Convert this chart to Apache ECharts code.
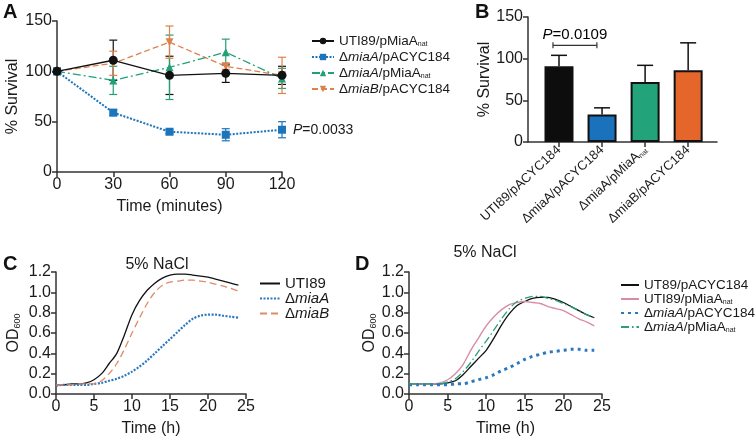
<!DOCTYPE html>
<html><head><meta charset="utf-8">
<script src="https://cdn.jsdelivr.net/npm/echarts@6/dist/echarts.min.js"></script>
<style>html,body{margin:0;padding:0;background:#fff}#c{width:756px;height:438px}</style>
</head><body><div id="c"></div>
<script>
// ---------- Panel A ----------
const aTimes = [0, 30, 60, 90, 120];
const aUtiPMiaA = [100, 111, 96, 98, 96];
const aUtiPMiaAErr = [0, 20, 19, 9, 9];
const aMiaAPacyc = [100, 59, 40, 37, 42];
const aMiaAPacycErr = [0, 3, 2, 6, 8];
const aMiaAPMiaA = [100, 91, 104, 119, 93];
const aMiaAPMiaAErr = [0, 14, 32, 13, 10];
const aMiaBPacyc = [100, 108, 129, 105, 96];
const aMiaBPacycErr = [0, 12, 16, 3, 18];
const aPValue = 'P=0.0033';
// ---------- Panel B ----------
const bCategories = ['UTI89/pACYC184', 'ΔmiaA/pACYC184', 'ΔmiaA/pMiaA_nat', 'ΔmiaB/pACYC184'];
const bValues = [91, 33, 72, 86];
const bErr = [13, 8, 20, 33];
const bBracket = { from: -0.14, to: 0.88, y: 116, text: 'P=0.0109' };
// ---------- Panel C ----------
const cHours = [0,1,2,3,4,5,6,7,8,9,10,11,12,13,14,15,16,17,18,19,20,21,22,23,24];
const cUti = [0.09,0.09,0.10,0.10,0.11,0.14,0.20,0.30,0.40,0.58,0.78,0.92,1.02,1.09,1.14,1.17,1.18,1.18,1.17,1.16,1.15,1.13,1.11,1.09,1.07];
const cMiaA = [0.08,0.09,0.09,0.09,0.09,0.10,0.11,0.13,0.15,0.18,0.22,0.27,0.33,0.40,0.47,0.54,0.61,0.68,0.74,0.77,0.78,0.78,0.77,0.76,0.75];
const cMiaB = [0.09,0.09,0.09,0.10,0.10,0.10,0.13,0.20,0.30,0.44,0.60,0.75,0.89,1.00,1.07,1.10,1.11,1.12,1.12,1.11,1.10,1.08,1.06,1.04,1.01];
// ---------- Panel D ----------
const dHours = [0,1,2,3,4,5,6,7,8,9,10,11,12,13,14,15,16,17,18,19,20,21,22,23,24];
const dUtiPacyc = [0.10,0.10,0.10,0.10,0.10,0.11,0.13,0.19,0.27,0.35,0.43,0.55,0.68,0.79,0.87,0.91,0.94,0.95,0.95,0.93,0.90,0.86,0.82,0.78,0.75];
const dUtiPMiaA = [0.10,0.10,0.10,0.10,0.11,0.14,0.20,0.29,0.43,0.55,0.67,0.76,0.83,0.88,0.90,0.91,0.90,0.89,0.86,0.84,0.82,0.78,0.74,0.71,0.67];
const dMiaAPacyc = [0.09,0.09,0.09,0.09,0.09,0.09,0.10,0.10,0.12,0.14,0.16,0.19,0.23,0.26,0.30,0.34,0.37,0.39,0.41,0.42,0.43,0.44,0.44,0.43,0.43];
const dMiaAPMiaA = [0.10,0.10,0.10,0.10,0.10,0.12,0.15,0.22,0.31,0.42,0.52,0.63,0.74,0.84,0.91,0.94,0.96,0.96,0.94,0.92,0.89,0.86,0.82,0.78,0.75];

const FF = '"Liberation Sans", Arial, sans-serif';
const TXT = '#1a1a1a';
const AX = '#333';

const zip = (xs, ys) => xs.map((x, i) => [x, ys[i]]);
const errData = (xs, ys, es) => xs.map((x, i) => [x, ys[i] - es[i], ys[i] + es[i]]);

function errSeries(xi, yi, data, color, cap, lw, bottomCap) {
  return {
    type: 'custom', xAxisIndex: xi, yAxisIndex: yi, data: data, silent: true, z: 3,
    encode: { x: 0, y: [1, 2] },
    renderItem: function (p, api) {
      const x = api.value(0), lo = api.value(1), hi = api.value(2);
      if (hi - lo === 0) return null;
      const a = api.coord([x, lo]), b = api.coord([x, hi]);
      const s = { stroke: color, lineWidth: lw, fill: null };
      const ch = [
        { type: 'line', shape: { x1: a[0], y1: a[1], x2: b[0], y2: b[1] }, style: s },
        { type: 'line', shape: { x1: b[0] - cap, y1: b[1], x2: b[0] + cap, y2: b[1] }, style: s }
      ];
      if (bottomCap) ch.push({ type: 'line', shape: { x1: a[0] - cap, y1: a[1], x2: a[0] + cap, y2: a[1] }, style: s });
      return { type: 'group', children: ch };
    }
  };
}

const rich = (size) => ({
  n: { fontSize: size, fontFamily: FF, color: TXT, lineHeight: size },
  i: { fontSize: size, fontFamily: FF, color: TXT, fontStyle: 'italic', lineHeight: size },
  s: { fontSize: Math.round(size * 0.55), fontFamily: FF, color: TXT, verticalAlign: 'bottom', lineHeight: Math.round(size*0.55), padding: [Math.round(size*0.45), 0, 0, 0] }
});

const names = {
  a1: '{n|UTI89/pMiaA}{s|nat}', a2: '{n|Δ}{i|miaA}{n|/pACYC184}', a3: '{n|Δ}{i|miaA}{n|/pMiaA}{s|nat}', a4: '{n|Δ}{i|miaB}{n|/pACYC184}',
  c1: '{n|UTI89}', c2: '{n|Δ}{i|miaA}', c3: '{n|Δ}{i|miaB}',
  d1: '{n|UT89/pACYC184}', d2: '{n|UTI89/pMiaA}{s|nat}', d3: '{n|Δ}{i|miaA}{n|/pACYC184}', d4: '{n|Δ}{i|miaA}{n|/pMiaA}{s|nat}'
};
const bLabel = (s) => s.replace(/_nat$/, '{s|nat}').replace(/^([^{]*)/, '{n|$1}');

function axisCommon(extra) {
  return Object.assign({
    axisLine: { show: true, onZero: false, lineStyle: { color: AX, width: 1.5 } },
    axisTick: { show: true, inside: false, length: 5, lineStyle: { color: AX, width: 1.5 } },
    axisLabel: { color: TXT, fontSize: 16, fontFamily: FF, margin: 5 },
    splitLine: { show: false },
    nameTextStyle: { color: TXT, fontSize: 16, fontFamily: FF },
    nameLocation: 'middle'
  }, extra);
}

const odName = { rich: { a: { fontSize: 16, fontFamily: FF, color: TXT }, s: { fontSize: 9, fontFamily: FF, color: TXT, verticalAlign: 'bottom', padding: [7, 0, 0, 0] } } };

const option = {
  animation: false,
  backgroundColor: '#fff',
  grid: [
    { left: 57, top: 21, width: 225, height: 151 },
    { left: 528, top: 17, width: 189, height: 125 },
    { left: 56, top: 272, width: 190, height: 122 },
    { left: 409, top: 272, width: 193, height: 125 }
  ],
  xAxis: [
    axisCommon({ gridIndex: 0, type: 'value', min: 0, max: 120, interval: 30, name: 'Time (minutes)', nameGap: 27 }),
    axisCommon({ gridIndex: 1, type: 'value', min: -0.72, max: 3.67,
      axisTick: { show: true, length: 5, customValues: [0, 1, 2, 3], lineStyle: { color: AX, width: 1.5 } },
      axisLabel: { customValues: [0, 1, 2, 3], rotate: 43, margin: 6, fontSize: 13, fontFamily: FF, color: TXT,
        formatter: (v) => bLabel(bCategories[Math.round(v)]), rich: rich(13) } }),
    axisCommon({ gridIndex: 2, type: 'value', min: 0, max: 25, interval: 5, name: 'Time (h)', nameGap: 27 }),
    axisCommon({ gridIndex: 3, type: 'value', min: 0, max: 25, interval: 5, name: 'Time (h)', nameGap: 27 })
  ],
  yAxis: [
    axisCommon({ gridIndex: 0, type: 'value', min: 0, max: 150, interval: 50, name: '% Survival', nameGap: 36 }),
    axisCommon({ gridIndex: 1, type: 'value', min: 0, max: 150, interval: 50, name: '% Survival', nameGap: 34 }),
    axisCommon({ gridIndex: 2, type: 'value', min: 0, max: 1.2, interval: 0.2, name: '{a|OD}{s|600}', nameGap: 34, nameTextStyle: odName,
      axisLabel: { color: TXT, fontSize: 16, fontFamily: FF, margin: 5, formatter: (v) => v.toFixed(1) } }),
    axisCommon({ gridIndex: 3, type: 'value', min: 0, max: 1.2, interval: 0.2, name: '{a|OD}{s|600}', nameGap: 30, nameTextStyle: odName,
      axisLabel: { color: TXT, fontSize: 16, fontFamily: FF, margin: 5, formatter: (v) => v.toFixed(1) } })
  ],
  legend: [
    { orient: 'vertical', left: 306, top: 29, itemWidth: 22, itemHeight: 8, itemGap: 2, data: ['a1', 'a2', 'a3', 'a4'],
      formatter: (n) => names[n], textStyle: { rich: rich(13.5), lineHeight: 14 } },
    { orient: 'vertical', left: 254, top: 271, itemWidth: 20, itemHeight: 8, itemGap: 0, data: ['c1', 'c2', 'c3'],
      itemStyle: { opacity: 0 },
      formatter: (n) => names[n], textStyle: { rich: rich(15), lineHeight: 14 } },
    { orient: 'vertical', left: 615, top: 273, itemWidth: 18, itemHeight: 8, itemGap: 0, data: ['d1', 'd2', 'd3', 'd4'],
      itemStyle: { opacity: 0 },
      formatter: (n) => names[n], textStyle: { rich: rich(13.5), lineHeight: 15 } }
  ],
  graphic: [
    { type: 'text', left: 3, top: 2, style: { text: 'A', font: 'bold 20px ' + FF, fill: '#111' } },
    { type: 'text', left: 475, top: 2, style: { text: 'B', font: 'bold 20px ' + FF, fill: '#111' } },
    { type: 'text', left: 3, top: 254, style: { text: 'C', font: 'bold 20px ' + FF, fill: '#111' } },
    { type: 'text', left: 355, top: 254, style: { text: 'D', font: 'bold 20px ' + FF, fill: '#111' } },
    { type: 'text', x: 157, y: 265, style: { text: '5% NaCl', font: '16px ' + FF, fill: TXT, textAlign: 'center', textVerticalAlign: 'middle' } },
    { type: 'text', x: 485, y: 253, style: { text: '5% NaCl', font: '16px ' + FF, fill: TXT, textAlign: 'center', textVerticalAlign: 'middle' } }
  ],
  series: [
    // Panel A
    errSeries(0, 0, errData(aTimes, aUtiPMiaA, aUtiPMiaAErr), '#111', 4, 1.2, true),
    errSeries(0, 0, errData(aTimes, aMiaAPacyc, aMiaAPacycErr), '#1b75bb', 4, 1.2, true),
    errSeries(0, 0, errData(aTimes, aMiaAPMiaA, aMiaAPMiaAErr), '#22a078', 4, 1.2, true),
    errSeries(0, 0, errData(aTimes, aMiaBPacyc, aMiaBPacycErr), '#e0804a', 4, 1.2, true),
    { name: 'a4', type: 'line', xAxisIndex: 0, yAxisIndex: 0, data: zip(aTimes, aMiaBPacyc), color: '#e0804a',
      symbol: 'triangle', symbolRotate: 180, symbolSize: 8, lineStyle: { width: 1.3, type: [6, 3] }, z: 4 },
    { name: 'a3', type: 'line', xAxisIndex: 0, yAxisIndex: 0, data: zip(aTimes, aMiaAPMiaA), color: '#22a078',
      symbol: 'triangle', symbolSize: 8, lineStyle: { width: 1.3, type: [8, 3, 2, 3] }, z: 4 },
    { name: 'a2', type: 'line', xAxisIndex: 0, yAxisIndex: 0, color: '#1b75bb',
      data: zip(aTimes, aMiaAPacyc).map((d, i) => i === aTimes.length - 1 ? { value: d, label: { show: true, position: 'right', distance: 7,
        formatter: '{i|P}{n|' + aPValue.slice(1) + '}', rich: rich(14) } } : d),
      symbol: 'rect', symbolSize: 8, lineStyle: { width: 2, type: [2, 1.5] }, z: 4 },
    { name: 'a1', type: 'line', xAxisIndex: 0, yAxisIndex: 0, data: zip(aTimes, aUtiPMiaA), color: '#111',
      symbol: 'circle', symbolSize: 9, lineStyle: { width: 1.3 }, z: 5 },
    // Panel B
    { type: 'bar', xAxisIndex: 1, yAxisIndex: 1, barWidth: 29, z: 2,
      data: bValues.map((v, i) => ({ value: [i, v], itemStyle: { color: ['#0d0d0d', '#1a72bd', '#22a37a', '#e4662b'][i] } })),
      itemStyle: { borderColor: '#111', borderWidth: 2 } },
    errSeries(1, 1, bCategories.map((c, i) => [i, bValues[i], bValues[i] + bErr[i]]), '#111', 8, 1.5, false),
    { type: 'custom', xAxisIndex: 1, yAxisIndex: 1, data: [[bBracket.from, bBracket.to, bBracket.y]], silent: true,
      encode: { x: [0, 1], y: 2 },
      renderItem: function (p, api) {
        const a = api.coord([api.value(0), api.value(2)]), b = api.coord([api.value(1), api.value(2)]);
        const s = { stroke: '#333', lineWidth: 1.2, fill: null };
        return { type: 'group', children: [
          { type: 'line', shape: { x1: a[0], y1: a[1], x2: b[0], y2: b[1] }, style: s },
          { type: 'line', shape: { x1: a[0], y1: a[1] - 3, x2: a[0], y2: a[1] + 3 }, style: s },
          { type: 'line', shape: { x1: b[0], y1: b[1] - 3, x2: b[0], y2: b[1] + 3 }, style: s },
          { type: 'text', style: { x: (a[0] + b[0]) / 2, y: a[1] - 3, text: '{i|P}{n|' + bBracket.text.slice(1) + '}', rich: rich(15), textAlign: 'center', textVerticalAlign: 'bottom' } }
        ] };
      } },
    // Panel C
    { name: 'c1', type: 'line', xAxisIndex: 2, yAxisIndex: 2, data: zip(cHours, cUti), color: '#111', symbol: 'none', smooth: 0.3, lineStyle: { width: 1.3 } },
    { name: 'c2', type: 'line', xAxisIndex: 2, yAxisIndex: 2, data: zip(cHours, cMiaA), color: '#2a78c0', symbol: 'none', smooth: 0.3, lineStyle: { width: 2.2, type: [2, 1.5] } },
    { name: 'c3', type: 'line', xAxisIndex: 2, yAxisIndex: 2, data: zip(cHours, cMiaB), color: '#e08a66', symbol: 'none', smooth: 0.3, lineStyle: { width: 1.3, type: [7, 4] } },
    // Panel D
    { name: 'd1', type: 'line', xAxisIndex: 3, yAxisIndex: 3, data: zip(dHours, dUtiPacyc), color: '#111', symbol: 'none', smooth: 0.3, lineStyle: { width: 1.3 }, z: 3 },
    { name: 'd2', type: 'line', xAxisIndex: 3, yAxisIndex: 3, data: zip(dHours, dUtiPMiaA), color: '#d98ca8', symbol: 'none', smooth: 0.3, lineStyle: { width: 1.4 } },
    { name: 'd3', type: 'line', xAxisIndex: 3, yAxisIndex: 3, data: zip(dHours, dMiaAPacyc), color: '#2a78c0', symbol: 'none', smooth: 0.3, lineStyle: { width: 3, type: [3, 4] } },
    { name: 'd4', type: 'line', xAxisIndex: 3, yAxisIndex: 3, data: zip(dHours, dMiaAPMiaA), color: '#27a079', symbol: 'none', smooth: 0.3, lineStyle: { width: 1.3, type: [8, 3, 1.5, 3] } }
  ]
};
const chart = echarts.init(document.getElementById('c'), null, { renderer: 'canvas' });
chart.setOption(option);
</script></body></html>
